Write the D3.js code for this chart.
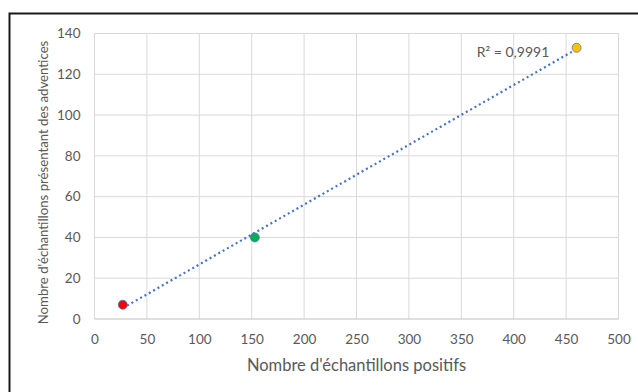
<!DOCTYPE html>
<html><head><meta charset="utf-8">
<script src="https://cdn.jsdelivr.net/npm/d3@7"></script>
<style>body{margin:0;background:#fff;}svg{display:block;font-family:Lato,"Open Sans",sans-serif;}</style>
</head><body><svg id="c" width="638" height="392"></svg>
<script>
const xValues = [27, 153, 460];
const yValues = [7, 40, 133];
const pointColors = ["#FF0000", "#00B050", "#FFC000"];
const xTicks = [0, 50, 100, 150, 200, 250, 300, 350, 400, 450, 500];
const yTicks = [0, 20, 40, 60, 80, 100, 120, 140];
const xTitle = "Nombre d'échantillons positifs";
const yTitle = "Nombre d'échantillons présentant des adventices";
const r2Label = "R² = 0,9991";

const svg = d3.select("#c");
svg.append("rect").attr("x",9.5).attr("y",13.5).attr("width",700).attr("height",500)
  .attr("fill","none").attr("stroke","#1a1a1a").attr("stroke-width",2);

const x = d3.scaleLinear().domain([0,500]).range([94.5,618.5]);
const y = d3.scaleLinear().domain([0,140]).range([319,33.5]);

const g = svg.append("g");
g.selectAll("line.v").data(xTicks).join("line")
  .attr("x1",d=>x(d)).attr("x2",d=>x(d)).attr("y1",y(0)).attr("y2",y(140))
  .attr("stroke","#D9D9D9").attr("stroke-width",1);
g.selectAll("line.h").data(yTicks).join("line")
  .attr("x1",x(0)).attr("x2",x(500)).attr("y1",d=>y(d)).attr("y2",d=>y(d))
  .attr("stroke",d=>d===0?"#BFBFBF":"#D9D9D9").attr("stroke-width",1);

const xAxis = svg.append("g").attr("transform",`translate(0,${y(0)})`)
  .call(d3.axisBottom(x).tickValues(xTicks).tickSize(0).tickPadding(15));
const yAxis = svg.append("g").attr("transform",`translate(${x(0)},0)`)
  .call(d3.axisLeft(y).tickValues(yTicks).tickSize(0).tickPadding(14));
[xAxis,yAxis].forEach(a=>{
  a.select(".domain").remove();
  a.selectAll("text").attr("fill","#595959").attr("font-size","13.5px").attr("font-family","Lato,'Open Sans',sans-serif");
});

// linear regression trendline
const n = xValues.length;
const mx = d3.mean(xValues), my = d3.mean(yValues);
let sxy=0, sxx=0;
for(let i=0;i<n;i++){sxy+=(xValues[i]-mx)*(yValues[i]-my);sxx+=(xValues[i]-mx)**2;}
const slope=sxy/sxx, icpt=my-slope*mx;
const x0=d3.min(xValues), x1=d3.max(xValues);
svg.append("line").attr("x1",x(x0)).attr("y1",y(slope*x0+icpt)).attr("x2",x(x1)).attr("y2",y(slope*x1+icpt))
  .attr("stroke","#4472C4").attr("stroke-width",2.2).attr("stroke-dasharray","2,3");

svg.selectAll("circle.p").data(xValues).join("circle")
  .attr("cx",d=>x(d)).attr("cy",(d,i)=>y(yValues[i])).attr("r",4.5)
  .attr("fill",(d,i)=>pointColors[i]).attr("stroke","#4472C4").attr("stroke-width",0.75);

svg.append("text").attr("x",513).attr("y",57).attr("text-anchor","middle")
  .attr("fill","#595959").attr("font-size","14px").text(r2Label);

svg.append("text").attr("x",(x(0)+x(500))/2).attr("y",371).attr("text-anchor","middle")
  .attr("fill","#595959").attr("font-size","16.5px").text(xTitle);
svg.append("text").attr("transform",`translate(48,182.5) rotate(-90)`).attr("text-anchor","middle")
  .attr("fill","#595959").attr("font-size","13.2px").text(yTitle);
</script></body></html>
